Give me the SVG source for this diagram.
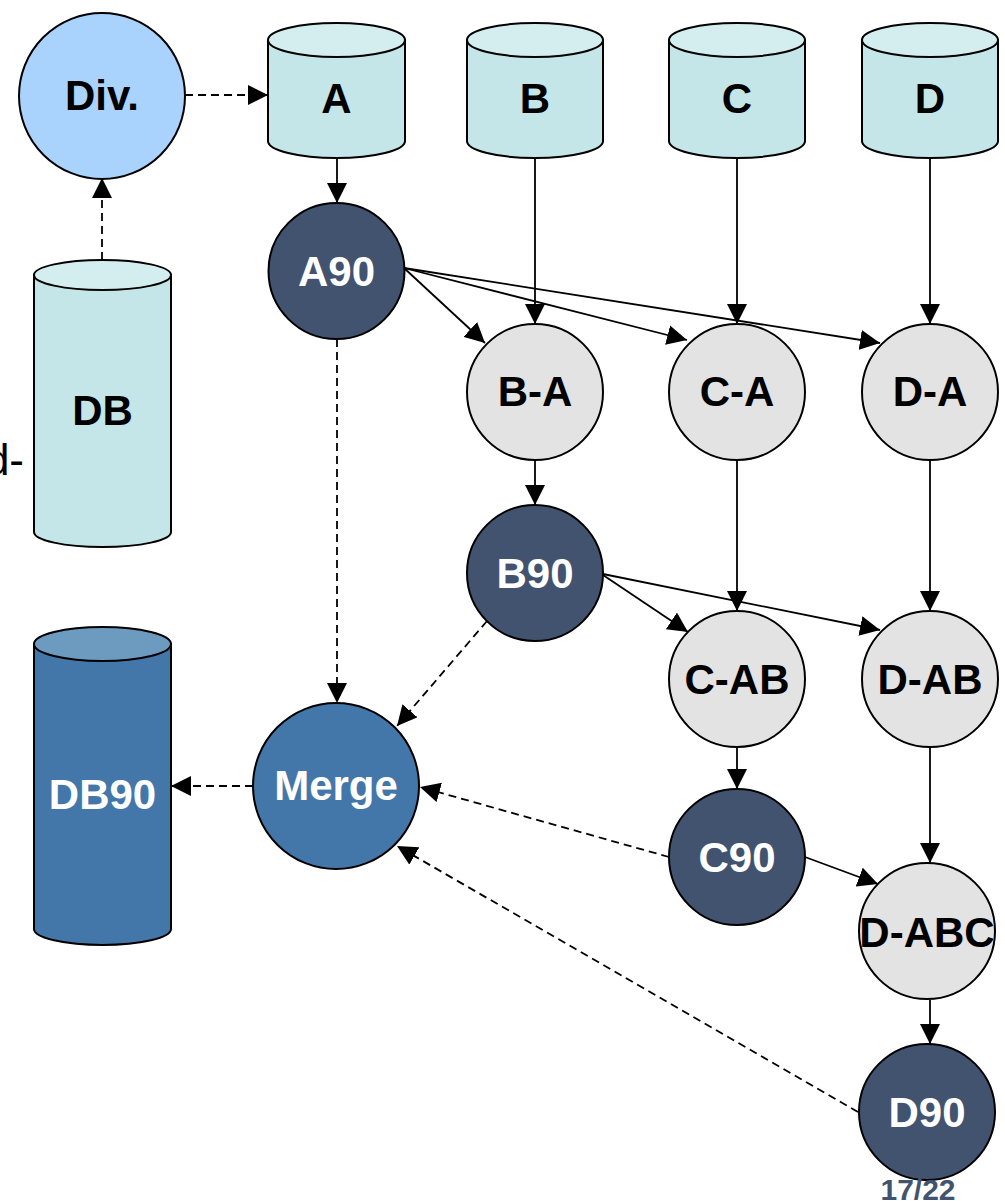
<svg xmlns="http://www.w3.org/2000/svg" width="1005" height="1201" viewBox="0 0 1005 1201">
<style>
.lbl{font-family:"Liberation Sans",Arial,sans-serif;font-weight:bold;font-size:42px;text-anchor:middle}
.dk{fill:#ffffff}
.bk{fill:#000000}
.sh{stroke:#000;stroke-width:2}
.cyl{fill:#c5e6e8}
.cyltop{fill:#d4eef0}
.dark{fill:#42536f}
.light{fill:#e3e3e3}
.blue{fill:#4477a9}
.c{fill:none;stroke:#000;stroke-width:1.8}
.d{fill:none;stroke:#000;stroke-width:1.8;stroke-dasharray:8,5}
</style>
<defs>
<marker id="ah" markerWidth="20" markerHeight="20" refX="20" refY="10" orient="auto" markerUnits="userSpaceOnUse">
<path d="M0,0 L20,10 L0,20 Z" fill="#000"/>
</marker>
</defs>
<rect width="1005" height="1201" fill="#ffffff"/>

<g id="connectors">
<line class="d" x1="185" y1="95" x2="268" y2="95" marker-end="url(#ah)"/>
<line class="d" x1="102" y1="260" x2="102" y2="178" marker-end="url(#ah)"/>
<line class="c" x1="337" y1="158" x2="337" y2="203" marker-end="url(#ah)"/>
<line class="c" x1="535" y1="158" x2="535" y2="324" marker-end="url(#ah)"/>
<line class="c" x1="737" y1="158" x2="737" y2="324" marker-end="url(#ah)"/>
<line class="c" x1="930" y1="158" x2="930" y2="324" marker-end="url(#ah)"/>
<line class="c" x1="404" y1="268" x2="485" y2="343" marker-end="url(#ah)"/>
<line class="c" x1="404" y1="268" x2="687" y2="340" marker-end="url(#ah)"/>
<line class="c" x1="404" y1="268" x2="880" y2="343" marker-end="url(#ah)"/>
<line class="c" x1="535" y1="460" x2="535" y2="505" marker-end="url(#ah)"/>
<line class="c" x1="737" y1="460" x2="737" y2="611" marker-end="url(#ah)"/>
<line class="c" x1="930" y1="460" x2="930" y2="611" marker-end="url(#ah)"/>
<line class="c" x1="603" y1="575" x2="688" y2="632" marker-end="url(#ah)"/>
<line class="c" x1="603" y1="574" x2="880" y2="630" marker-end="url(#ah)"/>
<line class="c" x1="737" y1="747" x2="737" y2="789" marker-end="url(#ah)"/>
<line class="c" x1="930" y1="747" x2="930" y2="863" marker-end="url(#ah)"/>
<line class="c" x1="805" y1="857" x2="878" y2="884" marker-end="url(#ah)"/>
<line class="c" x1="930" y1="1000" x2="930" y2="1044" marker-end="url(#ah)"/>
<line class="d" x1="337" y1="339" x2="337" y2="703" marker-end="url(#ah)"/>
<line class="d" x1="487" y1="621" x2="397" y2="726" marker-end="url(#ah)"/>
<line class="d" x1="669" y1="857" x2="420" y2="787" marker-end="url(#ah)"/>
<line class="d" x1="858" y1="1112" x2="397" y2="846" marker-end="url(#ah)"/>
<line class="d" x1="253" y1="786" x2="171" y2="786" marker-end="url(#ah)"/>
</g>

<g id="div">
<circle class="sh" cx="102" cy="96" r="83" fill="#a9d3fc"/>
<text class="lbl bk" x="102" y="110">Div.</text>
</g>

<g id="cylA">
<path class="sh cyl" d="M268,40 L268,141 A68.5,17 0 0 0 405,141 L405,40 Z"/>
<ellipse class="sh cyltop" cx="336.5" cy="40" rx="68.5" ry="17"/>
<text class="lbl bk" x="336.5" y="113">A</text>
</g>
<g id="cylB">
<path class="sh cyl" d="M467,40 L467,141 A68,17 0 0 0 603,141 L603,40 Z"/>
<ellipse class="sh cyltop" cx="535" cy="40" rx="68" ry="17"/>
<text class="lbl bk" x="535" y="113">B</text>
</g>
<g id="cylC">
<path class="sh cyl" d="M669,40 L669,141 A68,17 0 0 0 805,141 L805,40 Z"/>
<ellipse class="sh cyltop" cx="737" cy="40" rx="68" ry="17"/>
<text class="lbl bk" x="737" y="113">C</text>
</g>
<g id="cylD">
<path class="sh cyl" d="M862,40 L862,141 A68,17 0 0 0 998,141 L998,40 Z"/>
<ellipse class="sh cyltop" cx="930" cy="40" rx="68" ry="17"/>
<text class="lbl bk" x="930" y="113">D</text>
</g>

<g id="db">
<path class="sh cyl" d="M34,275 L34,532 A68.5,15 0 0 0 171,532 L171,275 Z"/>
<ellipse class="sh cyltop" cx="102.5" cy="275" rx="68.5" ry="15"/>
<text class="lbl bk" x="102.5" y="425">DB</text>
</g>
<text x="24" y="475" font-family="Liberation Sans,Arial,sans-serif" font-size="44" text-anchor="end" fill="#000">d-</text>

<g id="db90">
<path class="sh blue" d="M34,644 L34,929 A68.5,16 0 0 0 171,929 L171,644 Z"/>
<ellipse class="sh" cx="102.5" cy="644" rx="68.5" ry="17" fill="#6d9abf"/>
<text class="lbl dk" x="102.5" y="809" font-size="43">DB90</text>
</g>

<g id="a90"><circle class="sh dark" cx="336.5" cy="271" r="68"/><text class="lbl dk" x="336.5" y="286">A90</text></g>
<g id="ba"><circle class="sh light" cx="535" cy="392" r="68"/><text class="lbl bk" x="535" y="406">B-A</text></g>
<g id="ca"><circle class="sh light" cx="737" cy="392" r="68"/><text class="lbl bk" x="737" y="406">C-A</text></g>
<g id="da"><circle class="sh light" cx="930" cy="392" r="68"/><text class="lbl bk" x="930" y="406">D-A</text></g>
<g id="b90"><circle class="sh dark" cx="535" cy="573" r="68"/><text class="lbl dk" x="535" y="588">B90</text></g>
<g id="cab"><circle class="sh light" cx="737" cy="679" r="68"/><text class="lbl bk" x="737" y="694">C-AB</text></g>
<g id="dab"><circle class="sh light" cx="930" cy="679" r="68"/><text class="lbl bk" x="930" y="694">D-AB</text></g>
<g id="merge"><circle class="sh blue" cx="336" cy="786" r="83"/><text class="lbl dk" x="336" y="800">Merge</text></g>
<g id="c90"><circle class="sh dark" cx="737" cy="857" r="68"/><text class="lbl dk" x="737" y="872">C90</text></g>
<g id="dabc"><circle class="sh light" cx="927" cy="931" r="68"/><text class="lbl bk" x="927" y="947">D-ABC</text></g>
<g id="d90"><circle class="sh dark" cx="927" cy="1112" r="68"/><text class="lbl dk" x="927" y="1127">D90</text></g>

<text x="918" y="1200" font-family="Liberation Sans,Arial,sans-serif" font-weight="bold" font-size="30" text-anchor="middle" fill="#42536f">17/22</text>
</svg>
